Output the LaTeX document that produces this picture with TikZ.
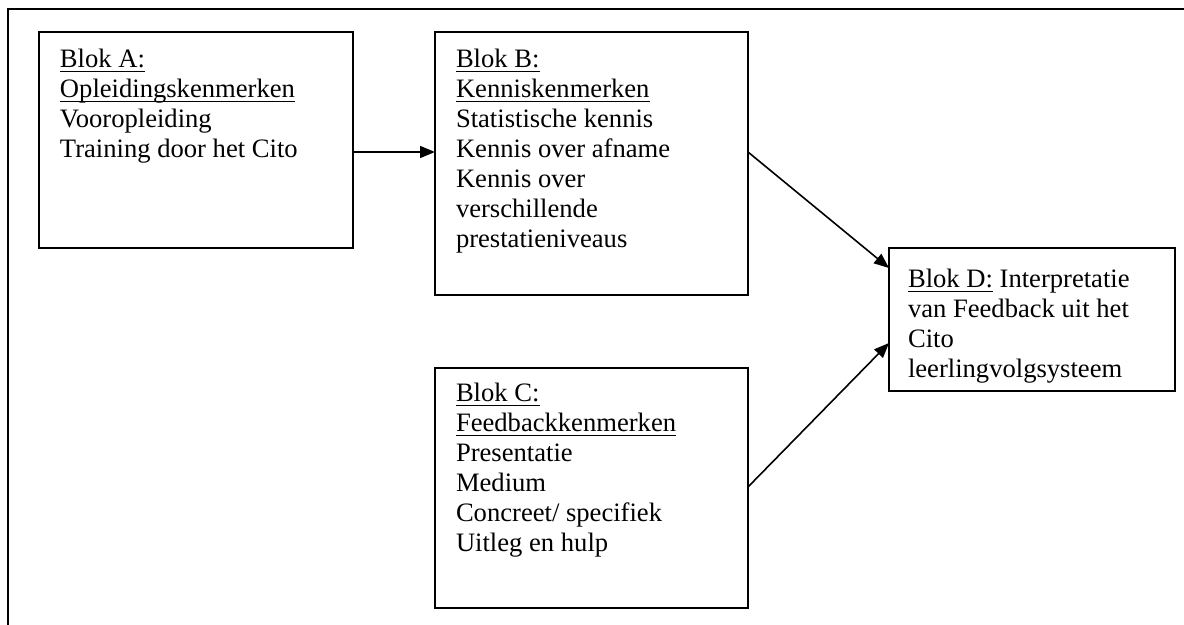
\documentclass[tikz,border=0pt]{standalone}
\usepackage{fontspec}
\setmainfont{Liberation Serif}
\usetikzlibrary{arrows.meta,calc}
\newcommand\myul[1]{\setbox0\hbox{#1}\rlap{\rule[-2pt]{\wd0}{0.6pt}}\box0\relax}
\newcommand\fst{\rule{0pt}{10pt}}
\begin{document}
\begin{tikzpicture}[x=0.5pt,y=-0.5pt,
  box/.style={draw,line width=0.9pt,inner sep=0pt,outer sep=0pt,anchor=north west},
  txt/.style={inner sep=0pt,outer sep=0pt,anchor=north west,align=left,font=\fontsize{13.3}{15}\selectfont},
  arr/.style={line width=0.8pt,-{Triangle[length=7.5pt,width=6pt]}}]
\useasboundingbox (0,0) rectangle (1184,625);
\draw[line width=1pt] (8,625) -- (8,9) -- (1184,9);
% boxes
\node[box,minimum width=157pt,minimum height=108pt] (A) at (39,32) {};
\node[box,minimum width=156.5pt,minimum height=131.5pt] (B) at (435,32) {};
\node[box,minimum width=156.5pt,minimum height=120pt] (C) at (435,368) {};
\node[box,minimum width=143pt,minimum height=71.5pt] (D) at (889,248) {};
% texts
\node[txt] (At) at (60,48) {\fst\myul{Blok A:}\\\myul{Opleidingskenmerken}\\Vooropleiding\\Training door het Cito};
\node[txt] (Bt) at (456,48) {\fst\myul{Blok B:}\\\myul{Kenniskenmerken}\\Statistische kennis\\Kennis over afname\\Kennis over\\verschillende\\prestatieniveaus};
\node[txt] (Ct) at (456,382) {\fst\myul{Blok C:}\\\myul{Feedbackkenmerken}\\Presentatie\\Medium\\Concreet/ specifiek\\Uitleg en hulp};
\node[txt] (Dt) at (908,268) {\fst\myul{Blok D:} Interpretatie\\van Feedback uit het\\Cito\\leerlingvolgsysteem};
% connectors
\draw[arr] ($(A.north east)+(0,120)$) -- ($(B.north west)+(0,120)$);
\draw[arr] ($(B.north east)+(0,120)$) -- ($(D.north west)+(0,20)$);
\draw[arr] ($(C.north east)+(0,119)$) -- ($(D.north west)+(0,95)$);
\end{tikzpicture}
\end{document}
